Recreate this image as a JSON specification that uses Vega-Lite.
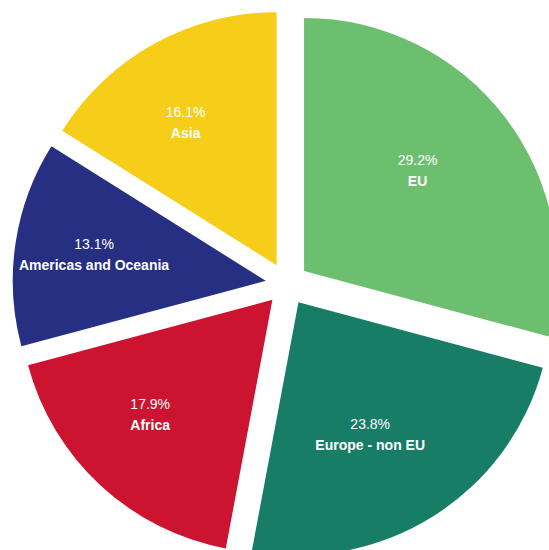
{
  "$schema": "https://vega.github.io/schema/vega-lite/v6.json",
  "width": 549,
  "height": 550,
  "autosize": {"type": "none"},
  "padding": 0,
  "background": "white",
  "config": {"view": {"stroke": null}},
  "data": {
    "values": [
      {"region": "EU", "share": 29.2},
      {"region": "Europe - non EU", "share": 23.8},
      {"region": "Africa", "share": 17.9},
      {"region": "Americas and Oceania", "share": 13.1},
      {"region": "Asia", "share": 16.1}
    ]
  },
  "transform": [
    {"window": [{"op": "row_number", "as": "idx"}]},
    {"window": [{"op": "sum", "field": "share", "as": "cum"}], "sort": [{"field": "idx"}], "frame": [null, 0]},
    {"joinaggregate": [{"op": "sum", "field": "share", "as": "total"}]},
    {"calculate": "2*PI*(datum.cum - datum.share)/datum.total", "as": "t0"},
    {"calculate": "2*PI*datum.cum/datum.total", "as": "t1"},
    {"calculate": "(datum.t0 + datum.t1)/2", "as": "mid"},
    {"calculate": "sin(datum.mid)", "as": "ux"},
    {"calculate": "-cos(datum.mid)", "as": "uy"},
    {"calculate": "format(datum.share/100, '.1%')", "as": "pct"}
  ],
  "encoding": {
    "x": {"field": "ux", "type": "quantitative", "stack": null, "scale": {"domain": [-1, 1], "range": [265.5, 308.5], "nice": false, "zero": false}, "axis": null},
    "y": {"field": "uy", "type": "quantitative", "stack": null, "scale": {"domain": [-1, 1], "range": [262.5, 305.5], "nice": false, "zero": false}, "axis": null}
  },
  "layer": [
    {
      "mark": {"type": "arc", "radius": 253, "stroke": null},
      "encoding": {
        "theta": {"field": "t0", "type": "quantitative", "scale": null, "stack": null},
        "theta2": {"field": "t1"},
        "color": {
          "field": "region",
          "type": "nominal",
          "scale": {
            "domain": ["EU", "Europe - non EU", "Africa", "Americas and Oceania", "Asia"],
            "range": ["#6cbf6e", "#187d66", "#cc1330", "#272f83", "#f6cd19"]
          },
          "legend": null
        }
      }
    },
    {
      "mark": {"type": "text", "radius": 160, "dx": -13.5, "dy": -12.5, "color": "white", "font": "Liberation Sans", "fontSize": 14, "align": "center", "baseline": "middle"},
      "encoding": {
        "theta": {"field": "mid", "type": "quantitative", "scale": null, "stack": null},
        "text": {"field": "pct"}
      }
    },
    {
      "mark": {"type": "text", "radius": 160, "dx": -13.5, "dy": 8.5, "color": "white", "font": "Liberation Sans", "fontSize": 14, "fontWeight": "bold", "align": "center", "baseline": "middle"},
      "encoding": {
        "theta": {"field": "mid", "type": "quantitative", "scale": null, "stack": null},
        "text": {"field": "region"}
      }
    }
  ]
}
